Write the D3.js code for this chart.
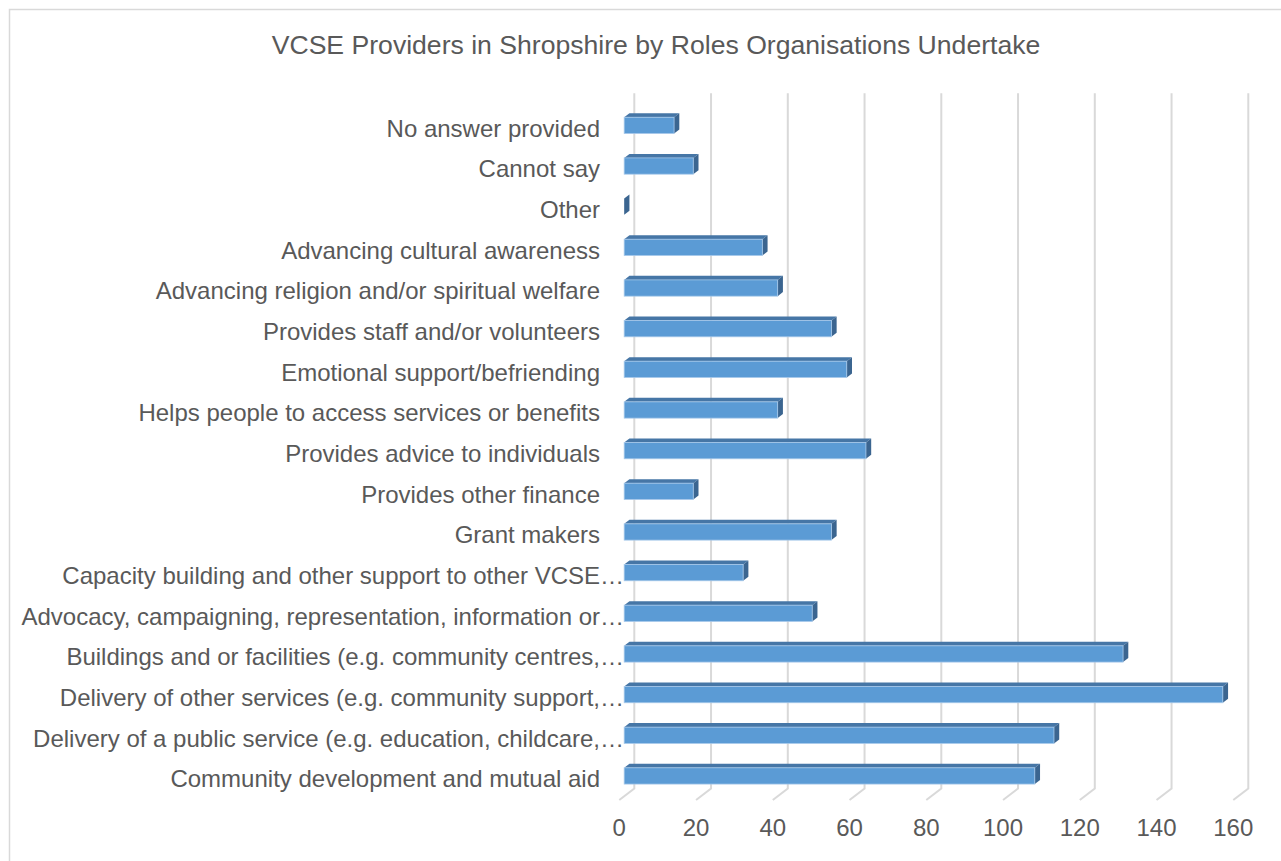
<!DOCTYPE html>
<html>
<head>
<meta charset="utf-8">
<script src="https://cdn.jsdelivr.net/npm/d3@7"></script>
<style>
  html, body { margin: 0; padding: 0; background: #fff; }
  svg { display: block; }
  text { font-family: "Liberation Sans", Arial, sans-serif; fill: #595959; }
</style>
</head>
<body>
<svg id="chart" width="1281" height="861"></svg>
<script>
// Roles undertaken by VCSE providers (first entry is drawn at the bottom)
const categories = [
  "Community development and mutual aid",
  "Delivery of a public service (e.g. education, childcare,…",
  "Delivery of other services (e.g. community support,…",
  "Buildings and or facilities (e.g. community centres,…",
  "Advocacy, campaigning, representation, information or…",
  "Capacity building and other support to other VCSE…",
  "Grant makers",
  "Provides other finance",
  "Provides advice to individuals",
  "Helps people to access services or benefits",
  "Emotional support/befriending",
  "Provides staff and/or volunteers",
  "Advancing religion and/or spiritual welfare",
  "Advancing cultural awareness",
  "Other",
  "Cannot say",
  "No answer provided"
];
const providers = [107, 112, 156, 130, 49, 31, 54, 18, 63, 40, 58, 54, 40, 36, 0, 18, 13];
const tickValues = [0, 20, 40, 60, 80, 100, 120, 140, 160];
const title = "VCSE Providers in Shropshire by Roles Organisations Undertake";

const svg = d3.select("#chart");

// Chart frame
svg.append("rect")
  .attr("x", 9.5).attr("y", 9.5)
  .attr("width", 1300).attr("height", 870)
  .attr("fill", "#fff").attr("stroke", "#d9d9d9").attr("stroke-width", 1.5);

svg.append("text")
  .attr("x", 656).attr("y", 54)
  .attr("text-anchor", "middle")
  .style("font-size", "26.6px")
  .text(title);

// Oblique 3D projection: the floor runs from the front plane back by (depthX, -depthY)
const depthX = 15, depthY = 11.5;
const frontBottom = 800;
const barNear = 0.325, barFar = 0.675;   // bar extent as a fraction of floor depth

// value scale on the back wall
const xBack = d3.scaleLinear().domain([0, 160]).range([634.3, 1248.3]);
const xAt = (v, d) => xBack(v) - depthX * (1 - d);   // d = depth fraction from front (0) to back (1)
const yShift = d => -depthY * d;

// category bands on the front plane, top to bottom
const y = d3.scaleBand()
  .domain(categories.slice().reverse())
  .range([frontBottom - 17 * 40.66, frontBottom])
  .paddingInner(0.6)
  .paddingOuter(0.3);

const backTop = y.range()[0] + yShift(1) - 4;
const backBottom = frontBottom + yShift(1);

// gridlines on the back wall and across the floor
const grid = svg.append("g")
  .attr("fill", "none").attr("stroke", "#d9d9d9").attr("stroke-width", 2);
grid.selectAll("path").data(tickValues).join("path")
  .attr("d", v => `M${xBack(v)},${backTop}V${backBottom}L${xAt(v, 0)},${frontBottom}`);

// value labels along the front edge of the floor
svg.append("g").selectAll("text").data(tickValues).join("text")
  .attr("x", v => xAt(v, 0))
  .attr("y", 836)
  .attr("text-anchor", "middle")
  .style("font-size", "24px")
  .text(d => d);

// category labels; a trailing ellipsis hangs past the label edge
const labelX = 600;
const labels = svg.append("g").style("font-size", "24px");
categories.forEach(c => {
  const cy = y(c) + y.bandwidth() / 2;
  const cut = c.endsWith("…");
  labels.append("text")
    .attr("x", labelX).attr("y", cy).attr("dy", "0.32em")
    .attr("text-anchor", "end")
    .text(cut ? c.slice(0, -1) : c);
  if (cut) {
    labels.append("text")
      .attr("x", labelX).attr("y", cy).attr("dy", "0.32em")
      .text("…");
  }
});

// 3D bars: front face, top face and end face
const bars = svg.append("g");
const rows = categories.map((c, i) => ({ c, v: providers[i] }));
const ddx = depthX * (barFar - barNear), ddy = depthY * (barFar - barNear);

rows.forEach(r => {
  const x0 = xAt(0, barNear), x1 = xAt(r.v, barNear);
  const yt = y(r.c) + yShift(barNear), h = y.bandwidth();
  const g = bars.append("g");
  g.append("path")
    .attr("d", `M${x0},${yt}L${x1},${yt}L${x1 + ddx},${yt - ddy}L${x0 + ddx},${yt - ddy}Z`)
    .attr("fill", "#4676a6");
  g.append("path")
    .attr("d", `M${x1},${yt}L${x1 + ddx},${yt - ddy}L${x1 + ddx},${yt + h - ddy}L${x1},${yt + h}Z`)
    .attr("fill", "#3b6590");
  g.append("rect")
    .attr("x", x0).attr("y", yt)
    .attr("width", x1 - x0).attr("height", h)
    .attr("fill", "#5b9bd5")
    .attr("stroke", "#a6c8ea").attr("stroke-width", 0.8);
});
</script>
</body>
</html>
